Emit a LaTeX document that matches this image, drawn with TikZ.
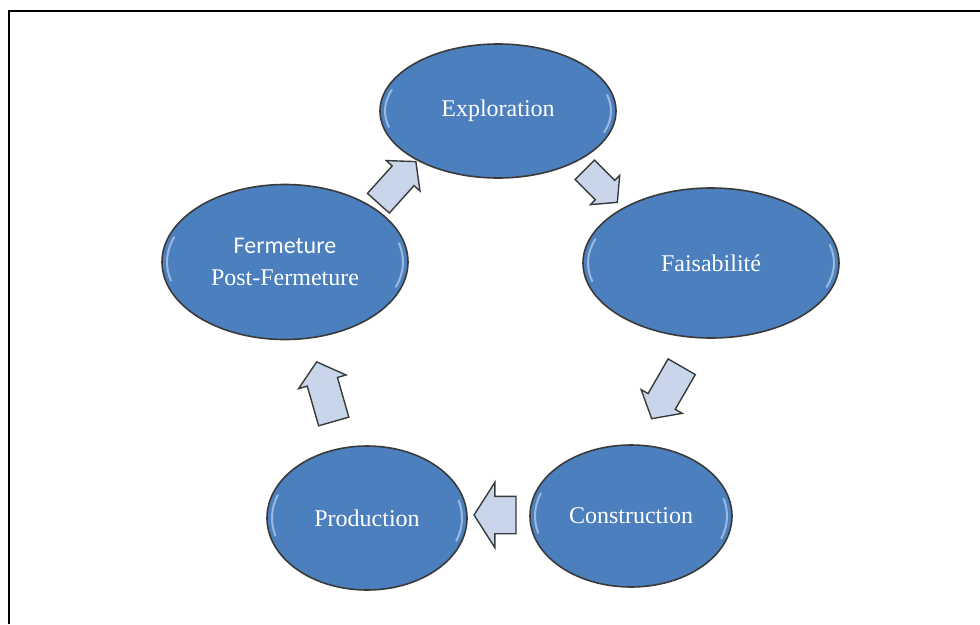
\documentclass[tikz,border=0pt]{standalone}
\usepackage{fontspec}
\setmainfont{Liberation Serif}
\newfontfamily\calibrifont{Carlito}
\usepackage{tikz}
\usetikzlibrary{shapes.geometric,shapes.arrows,calc}
\definecolor{phaseblue}{HTML}{4C7FBE}
\definecolor{arrowfill}{HTML}{C9D5EA}
\definecolor{rimgray}{HTML}{3A3A3A}

\begin{document}
\begin{tikzpicture}[x=1pt,y=-1pt,
    phase/.style={ellipse,draw=rimgray,line width=1.6pt,fill=phaseblue,text=white,
      inner sep=0pt,align=center,font=\fontsize{24}{29}\selectfont,
      path picture={
        \draw[white,opacity=.45,line width=2pt,line cap=round]
          let \p1=(path picture bounding box.north east),
              \p2=(path picture bounding box.center),
              \n1={\x1-\x2-5pt},\n2={\y1-\y2-5pt} in
          (\x2,\y2) ++(160:\n1 and \n2) arc[start angle=160,end angle=195,x radius=\n1,y radius=\n2]
          (\x2,\y2) ++(-20:\n1 and \n2) arc[start angle=-20,end angle=15,x radius=\n1,y radius=\n2];}},
    flow/.style={single arrow,draw=rimgray,line width=1.4pt,fill=arrowfill,
      inner xsep=0pt,single arrow tip angle=100}]

    \useasboundingbox (0,0) rectangle (980,624);
    \draw[line width=2pt] (9,624) -- (9,11) -- (980,11);

	% the five phases
    \node[phase,minimum width=236,minimum height=134] (expl) at (498,111) {Exploration};
    \node[phase,minimum width=256,minimum height=150] (fais) at (711,263) {Faisabilit\'e};
    \node[phase,minimum width=202,minimum height=142] (cons) at (631,516) {Construction};
    \node[phase,minimum width=200,minimum height=144] (prod) at (367,518) {Production};
    \node[phase,minimum width=246,minimum height=155] (ferm) at (285,262)
        {{\calibrifont Fermeture}\\[3pt]Post-Fermeture};

	% block arrows between them
    \node[flow,rotate=48,minimum height=56,inner ysep=14,single arrow head extend=8] (a1) at (393,187) {};
    \node[flow,rotate=-45,minimum height=46,inner ysep=13,single arrow head extend=7] (a2) at (597,182) {};
    \node[flow,rotate=-120,minimum height=60,inner ysep=15,single arrow head extend=8] (a3) at (670,387) {};
    \node[flow,rotate=180,minimum height=42,inner ysep=18,single arrow head extend=14,single arrow tip angle=115] (a4) at (501,515) {};
    \node[flow,rotate=106,minimum height=62,inner ysep=15,single arrow head extend=9] (a5) at (327,398) {};

\end{tikzpicture}
\end{document}
